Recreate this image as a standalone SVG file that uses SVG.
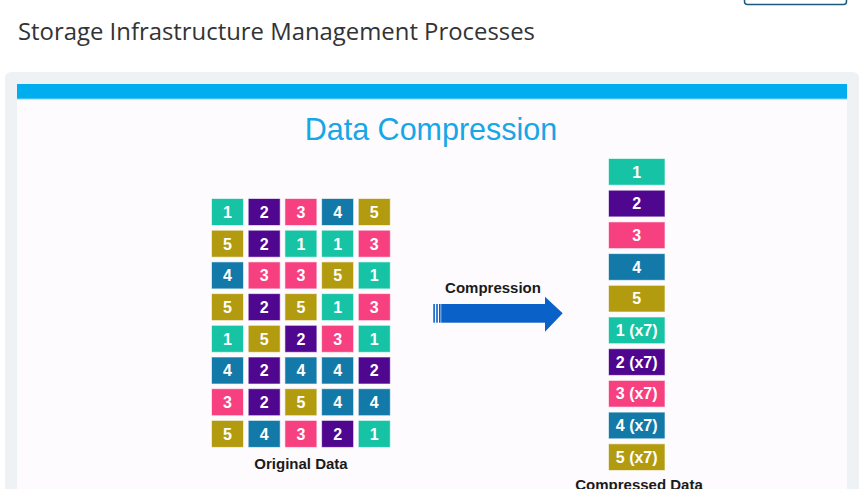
<svg xmlns="http://www.w3.org/2000/svg" width="862" height="489" viewBox="0 0 862 489">
<style>
.c1{fill:#17c3a5}.c2{fill:#4f0790}.c3{fill:#f7407f}.c4{fill:#1279a8}.c5{fill:#b39b10}
.cell{stroke:#ffffff;stroke-opacity:0.6;stroke-width:1}
.t{font-family:"Liberation Sans",Arial,sans-serif;font-weight:bold;fill:#ffffff;text-anchor:middle}
.g{font-size:16px}
.s{font-size:16px}
.lbl{font-family:"Liberation Sans",Arial,sans-serif;font-weight:bold;fill:#1a1a1a;text-anchor:middle;font-size:15px}
</style>
<rect width="862" height="489" fill="#ffffff"/>
<rect id="btn" x="744.5" y="-10" width="102" height="14.5" rx="3" fill="none" stroke="#1b5a7c" stroke-width="1.5"/>
<text x="18" y="40" font-family="'Open Sans','Noto Sans',sans-serif" font-size="24" textLength="517" lengthAdjust="spacingAndGlyphs" fill="#333333">Storage Infrastructure Management Processes</text>
<rect x="5" y="72" width="854" height="430" rx="6" fill="#eef2f5"/>
<rect x="17" y="84" width="830" height="410" fill="#fdfbfd"/>
<rect x="17" y="84" width="830" height="15" fill="#00aeef"/>
<rect x="17" y="98.5" width="830" height="1" fill="#7fd6f5"/>
<text x="431" y="140" font-family="'Liberation Sans',Arial,sans-serif" font-size="30.5" fill="#17a6e6" text-anchor="middle">Data Compression</text>

<g id="original">
<g class="cell">
<rect class="c1" x="211.5" y="198.5" width="32" height="27"/><rect class="c2" x="248.2" y="198.5" width="32" height="27"/><rect class="c3" x="284.9" y="198.5" width="32" height="27"/><rect class="c4" x="321.6" y="198.5" width="32" height="27"/><rect class="c5" x="358.3" y="198.5" width="32" height="27"/>
<rect class="c5" x="211.5" y="230.2" width="32" height="27"/><rect class="c2" x="248.2" y="230.2" width="32" height="27"/><rect class="c1" x="284.9" y="230.2" width="32" height="27"/><rect class="c1" x="321.6" y="230.2" width="32" height="27"/><rect class="c3" x="358.3" y="230.2" width="32" height="27"/>
<rect class="c4" x="211.5" y="261.9" width="32" height="27"/><rect class="c3" x="248.2" y="261.9" width="32" height="27"/><rect class="c3" x="284.9" y="261.9" width="32" height="27"/><rect class="c5" x="321.6" y="261.9" width="32" height="27"/><rect class="c1" x="358.3" y="261.9" width="32" height="27"/>
<rect class="c5" x="211.5" y="293.6" width="32" height="27"/><rect class="c2" x="248.2" y="293.6" width="32" height="27"/><rect class="c5" x="284.9" y="293.6" width="32" height="27"/><rect class="c1" x="321.6" y="293.6" width="32" height="27"/><rect class="c3" x="358.3" y="293.6" width="32" height="27"/>
<rect class="c1" x="211.5" y="325.3" width="32" height="27"/><rect class="c5" x="248.2" y="325.3" width="32" height="27"/><rect class="c2" x="284.9" y="325.3" width="32" height="27"/><rect class="c3" x="321.6" y="325.3" width="32" height="27"/><rect class="c1" x="358.3" y="325.3" width="32" height="27"/>
<rect class="c4" x="211.5" y="357" width="32" height="27"/><rect class="c2" x="248.2" y="357" width="32" height="27"/><rect class="c4" x="284.9" y="357" width="32" height="27"/><rect class="c4" x="321.6" y="357" width="32" height="27"/><rect class="c2" x="358.3" y="357" width="32" height="27"/>
<rect class="c3" x="211.5" y="388.7" width="32" height="27"/><rect class="c2" x="248.2" y="388.7" width="32" height="27"/><rect class="c5" x="284.9" y="388.7" width="32" height="27"/><rect class="c4" x="321.6" y="388.7" width="32" height="27"/><rect class="c4" x="358.3" y="388.7" width="32" height="27"/>
<rect class="c5" x="211.5" y="420.4" width="32" height="27"/><rect class="c4" x="248.2" y="420.4" width="32" height="27"/><rect class="c3" x="284.9" y="420.4" width="32" height="27"/><rect class="c2" x="321.6" y="420.4" width="32" height="27"/><rect class="c1" x="358.3" y="420.4" width="32" height="27"/>
</g>
<g class="t g">
<text x="227.5" y="217.8">1</text><text x="264.2" y="217.8">2</text><text x="300.9" y="217.8">3</text><text x="337.6" y="217.8">4</text><text x="374.3" y="217.8">5</text>
<text x="227.5" y="249.5">5</text><text x="264.2" y="249.5">2</text><text x="300.9" y="249.5">1</text><text x="337.6" y="249.5">1</text><text x="374.3" y="249.5">3</text>
<text x="227.5" y="281.2">4</text><text x="264.2" y="281.2">3</text><text x="300.9" y="281.2">3</text><text x="337.6" y="281.2">5</text><text x="374.3" y="281.2">1</text>
<text x="227.5" y="312.9">5</text><text x="264.2" y="312.9">2</text><text x="300.9" y="312.9">5</text><text x="337.6" y="312.9">1</text><text x="374.3" y="312.9">3</text>
<text x="227.5" y="344.6">1</text><text x="264.2" y="344.6">5</text><text x="300.9" y="344.6">2</text><text x="337.6" y="344.6">3</text><text x="374.3" y="344.6">1</text>
<text x="227.5" y="376.3">4</text><text x="264.2" y="376.3">2</text><text x="300.9" y="376.3">4</text><text x="337.6" y="376.3">4</text><text x="374.3" y="376.3">2</text>
<text x="227.5" y="408">3</text><text x="264.2" y="408">2</text><text x="300.9" y="408">5</text><text x="337.6" y="408">4</text><text x="374.3" y="408">4</text>
<text x="227.5" y="439.7">5</text><text x="264.2" y="439.7">4</text><text x="300.9" y="439.7">3</text><text x="337.6" y="439.7">2</text><text x="374.3" y="439.7">1</text>
</g>
<text class="lbl" x="301" y="468.5">Original Data</text>
</g>

<g id="arrow">
<text class="lbl" x="493" y="292.5">Compression</text>
<g fill="#0a62c9">
<rect x="433.3" y="304" width="1.6" height="18.7"/>
<rect x="436.2" y="304" width="1.6" height="18.7"/>
<rect x="439" y="304" width="1.6" height="18.7"/>
<rect x="441.2" y="304" width="104.3" height="18.7"/>
<polygon points="545,296.7 562.7,313.3 545,331.7"/>
</g>
</g>

<g id="compressed">
<g class="cell">
<rect class="c1" x="608.5" y="158.5" width="56.5" height="26.7"/>
<rect class="c2" x="608.5" y="190.2" width="56.5" height="26.7"/>
<rect class="c3" x="608.5" y="221.9" width="56.5" height="26.7"/>
<rect class="c4" x="608.5" y="253.6" width="56.5" height="26.7"/>
<rect class="c5" x="608.5" y="285.3" width="56.5" height="26.7"/>
<rect class="c1" x="608.5" y="317" width="56.5" height="26.7"/>
<rect class="c2" x="608.5" y="348.7" width="56.5" height="26.7"/>
<rect class="c3" x="608.5" y="380.4" width="56.5" height="26.7"/>
<rect class="c4" x="608.5" y="412.1" width="56.5" height="26.7"/>
<rect class="c5" x="608.5" y="443.8" width="56.5" height="26.7"/>
</g>
<g class="t s">
<text x="636.7" y="177.5">1</text>
<text x="636.7" y="209.2">2</text>
<text x="636.7" y="240.9">3</text>
<text x="636.7" y="272.6">4</text>
<text x="636.7" y="304.3">5</text>
<text x="636.7" y="336">1 (x7)</text>
<text x="636.7" y="367.7">2 (x7)</text>
<text x="636.7" y="399.4">3 (x7)</text>
<text x="636.7" y="431.1">4 (x7)</text>
<text x="636.7" y="462.8">5 (x7)</text>
</g>
<text class="lbl" x="639" y="490">Compressed Data</text>
</g>
</svg>
